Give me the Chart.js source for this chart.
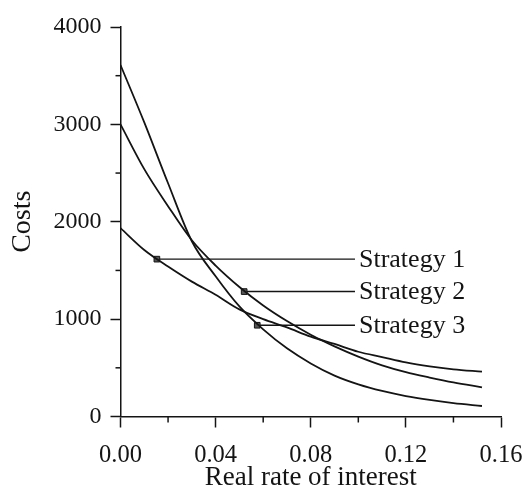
<!DOCTYPE html>
<html lang="en">

<head>
    <meta charset="UTF-8">
    <title>Costs vs real rate of interest</title>
    <script src="https://cdn.jsdelivr.net/npm/chart.js"></script>
    <style>
        body {
            margin: 0;
            background: #fff;
        }

        canvas {
            display: block;
        }
    </style>
</head>

<body>
    <canvas id="costChart" width="528" height="491"></canvas>

    <script>
        // values
        const rates = [0, 0.01, 0.02, 0.03, 0.04, 0.05, 0.06, 0.07, 0.08, 0.09, 0.10, 0.11, 0.12, 0.13, 0.14, 0.152];
        const costs1 = [1935, 1710, 1540, 1385, 1250, 1100, 1000, 915, 820, 745, 665, 610, 555, 515, 485, 460];
        const costs2 = [3000, 2540, 2160, 1810, 1550, 1330, 1140, 980, 840, 720, 615, 525, 455, 400, 350, 300];
        const costs3 = [3610, 3020, 2395, 1800, 1440, 1130, 895, 700, 545, 420, 330, 262, 210, 170, 137, 108];

        // strategy labels: marker on the curve, leader line to the text
        const strategyNames = ['Strategy 1', 'Strategy 2', 'Strategy 3'];
        const markerX = [0.0153, 0.052, 0.0575];
        const markerY = [1616, 1283, 937];
        const leaderEndX = 0.0986;

        const xTicks = [0, 0.04, 0.08, 0.12, 0.16];
        const yTicks = [0, 1000, 2000, 3000, 4000];

        const ink = '#141414';
        const serif = '"Liberation Serif", "DejaVu Serif", serif';

        const toPoints = (xs, ys) => xs.map((x, i) => ({ x: x, y: ys[i] }));
        const isMajor = (list, v) => list.some(t => Math.abs(t - v) < 1e-9);

        const curve = data => ({
            data: data,
            borderColor: ink,
            borderWidth: 1.8,
            pointRadius: 0,
            cubicInterpolationMode: 'monotone',
            fill: false
        });

        const leader = i => ({
            data: [{ x: markerX[i], y: markerY[i] }, { x: leaderEndX, y: markerY[i] }],
            borderColor: ink,
            borderWidth: 1.4,
            pointStyle: 'rect',
            pointRadius: [4, 0],
            pointBackgroundColor: '#555',
            pointBorderColor: ink,
            pointBorderWidth: 1,
            fill: false
        });

        // short minor ticks and the strategy texts
        const extras = {
            id: 'extras',
            afterDraw(chart) {
                const ctx = chart.ctx;
                const xs = chart.scales.x, ys = chart.scales.y;
                ctx.save();
                ctx.strokeStyle = ink;
                ctx.lineWidth = 1.5;
                xs.ticks.forEach(t => {
                    if (isMajor(xTicks, t.value)) return;
                    const px = xs.getPixelForValue(t.value);
                    ctx.beginPath();
                    ctx.moveTo(px, xs.top);
                    ctx.lineTo(px, xs.top + 6);
                    ctx.stroke();
                });
                ys.ticks.forEach(t => {
                    if (isMajor(yTicks, t.value)) return;
                    const py = ys.getPixelForValue(t.value);
                    ctx.beginPath();
                    ctx.moveTo(ys.right - 5, py);
                    ctx.lineTo(ys.right, py);
                    ctx.stroke();
                });

                ctx.fillStyle = ink;
                ctx.font = '26px ' + serif;
                ctx.textBaseline = 'middle';
                strategyNames.forEach((name, i) => {
                    ctx.fillText(name, xs.getPixelForValue(leaderEndX) + 4, ys.getPixelForValue(markerY[i]) + 1);
                });
                ctx.restore();
            }
        };

        new Chart(document.getElementById('costChart'), {
            type: 'line',
            data: {
                datasets: [
                    curve(toPoints(rates, costs1)),
                    curve(toPoints(rates, costs2)),
                    curve(toPoints(rates, costs3)),
                    leader(0), leader(1), leader(2)
                ]
            },
            options: {
                responsive: false,
                animation: false,
                devicePixelRatio: 1,
                layout: { padding: { top: 27, right: 27, left: 0, bottom: 0 } },
                plugins: { legend: { display: false }, tooltip: { enabled: false } },
                scales: {
                    x: {
                        type: 'linear',
                        min: 0,
                        max: 0.16,
                        afterFit: s => {
                            s.height = 74.5;
                            s.paddingLeft = 0;
                            s.paddingRight = 0;
                        },
                        border: { display: true, color: ink, width: 1.5 },
                        grid: {
                            drawOnChartArea: false,
                            tickLength: 11,
                            tickWidth: 1.5,
                            tickColor: c => isMajor(xTicks, c.tick.value) ? ink : 'rgba(0,0,0,0)'
                        },
                        ticks: {
                            stepSize: 0.02,
                            padding: 13,
                            color: ink,
                            font: { family: serif, size: 24.5 },
                            maxRotation: 0,
                            autoSkip: false,
                            callback: v => isMajor(xTicks, v) ? v.toFixed(2) : ''
                        },
                        title: {
                            display: true,
                            text: 'Real rate of interest',
                            color: ink,
                            font: { family: serif, size: 27, lineHeight: 1 },
                            padding: { top: 0, bottom: 0 }
                        }
                    },
                    y: {
                        min: 0,
                        max: 4000,
                        afterFit: s => { s.width = 120.5; },
                        border: { display: true, color: ink, width: 1.5 },
                        grid: {
                            drawOnChartArea: false,
                            tickLength: 10,
                            tickWidth: 1.5,
                            tickColor: c => isMajor(yTicks, c.tick.value) ? ink : 'rgba(0,0,0,0)'
                        },
                        ticks: {
                            stepSize: 500,
                            padding: 9,
                            color: ink,
                            font: { family: serif, size: 24 },
                            autoSkip: false,
                            callback: v => isMajor(yTicks, v) ? String(v) : ''
                        },
                        title: {
                            display: true,
                            text: 'Costs',
                            color: ink,
                            font: { family: serif, size: 28 },
                            padding: { top: 6, bottom: 0 }
                        }
                    }
                }
            },
            plugins: [extras]
        });
    </script>
</body>

</html>
